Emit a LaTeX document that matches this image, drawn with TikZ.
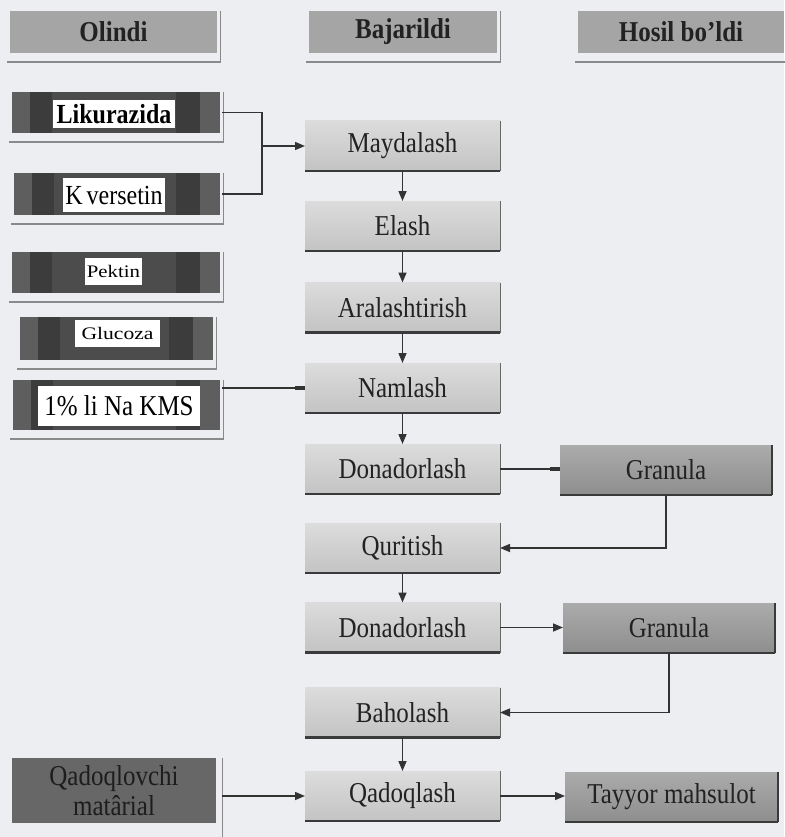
\documentclass[tikz,border=0pt]{standalone}
\usepackage{fontspec}
\setmainfont{Liberation Serif}
\usepackage{graphicx}
\usetikzlibrary{arrows.meta,calc}
\definecolor{bgc}{HTML}{ECEEF1}
\definecolor{hdrc}{HTML}{A5A5A5}
\definecolor{framec}{HTML}{8A8A8A}
\definecolor{ptop}{HTML}{DCDCDC}
\definecolor{pbot}{HTML}{C3C3C3}
\definecolor{pedge}{HTML}{3A3A3A}
\definecolor{gtop}{HTML}{ABABAB}
\definecolor{gbot}{HTML}{8E8E8E}
\definecolor{inbg}{HTML}{4C4C4C}
\definecolor{inlight}{HTML}{5E5E5E}
\definecolor{indark}{HTML}{3C3C3C}
\definecolor{qmc}{HTML}{676767}
\definecolor{txtc}{HTML}{222222}
\definecolor{linec}{HTML}{333333}
\newcommand\tallt[1]{\scalebox{1}[1.15]{#1}}
\begin{document}
\begin{tikzpicture}[x=1pt,y=-1pt,
  every node/.style={inner sep=0pt, outer sep=0pt, text=txtc},
  bigfont/.style={font=\fontsize{25}{29}\selectfont},
  framed/.style={append after command={
     ([xshift=-3pt,yshift=-9pt]\tikzlastnode.south west) edge[draw=framec, line width=2pt] ([xshift=4pt,yshift=-9pt]\tikzlastnode.south east)
     ([xshift=3pt]\tikzlastnode.north east) edge[draw=framec, line width=1pt] ([xshift=3pt,yshift=-10pt]\tikzlastnode.south east)}},
  hdr/.style={rectangle, fill=hdrc, minimum height=42pt, font=\fontsize{25}{29}\selectfont\bfseries, framed},
  inbox/.style={rectangle, fill=inbg, framed,
     path picture={
       \fill[inlight] (path picture bounding box.north west) rectangle ([xshift=18pt]path picture bounding box.south west);
       \fill[indark] ([xshift=18pt]path picture bounding box.north west) rectangle ([xshift=40pt]path picture bounding box.south west);
       \fill[inlight] (path picture bounding box.north east) rectangle ([xshift=-20pt]path picture bounding box.south east);
       \fill[indark] ([xshift=-20pt]path picture bounding box.north east) rectangle ([xshift=-44pt]path picture bounding box.south east);}},
  lbl/.style={rectangle, fill=white, text=black},
  proc/.style={rectangle, minimum width=195pt, minimum height=50pt, top color=ptop, bottom color=pbot, bigfont,
     append after command={
       (\tikzlastnode.south west) edge[draw=pedge, line width=2.5pt] (\tikzlastnode.south east)
       (\tikzlastnode.north east) edge[draw=gray!80!black, line width=0.8pt] (\tikzlastnode.south east)}},
  gran/.style={rectangle, minimum width=212pt, minimum height=50pt, top color=gtop, bottom color=gbot, bigfont,
     append after command={
       (\tikzlastnode.south west) edge[draw=pedge, line width=2.5pt] (\tikzlastnode.south east)
       (\tikzlastnode.north east) edge[draw=pedge, line width=1.5pt] (\tikzlastnode.south east)}},
  ln/.style={draw=linec, line width=1.5pt},
  arr/.style={ln, -{Triangle[length=10pt,width=8pt]}},
  stub/.style={ln, -{Rectangle[length=10pt,width=3.5pt]}}
]
\fill[bgc] (0,0) rectangle (784,837);
\useasboundingbox (0,0) rectangle (784,837);

% headers
\node[hdr, minimum width=207pt] (h1) at (113.5,32) {\tallt{Olindi}};
\node[hdr, minimum width=188pt] (h2) at (403,32) {\tallt{Bajarildi}};
\node[hdr, minimum width=206pt] (h3) at (681,32) {\tallt{Hosil bo’ldi}};

% input boxes
\node[inbox, minimum width=208pt, minimum height=41pt] (lik) at (116,112.5) {};
\node[lbl, minimum width=122pt, minimum height=28pt, font=\fontsize{24}{28}\selectfont\bfseries] (likl) at (114,114) {\tallt{Likurazida}};
\node[inbox, minimum width=206pt, minimum height=42pt] (kv) at (117,194) {};
\node[lbl, minimum width=102pt, minimum height=34pt, font=\fontsize{24}{28}\selectfont] (kvl) at (114,195) {\tallt{K\,versetin}};
\node[inbox, minimum width=208pt, minimum height=41pt] (pek) at (116,272.5) {};
\node[lbl, minimum width=57pt, minimum height=27pt, font=\fontsize{16}{18}\selectfont] (pekl) at (113.5,271.5) {\scalebox{1.3}[1.1]{Pektin}};
\node[inbox, minimum width=193pt, minimum height=43pt] (glu) at (116.5,338.5) {};
\node[lbl, minimum width=85pt, minimum height=27pt, font=\fontsize{16}{18}\selectfont] (glul) at (117.5,333.5) {\scalebox{1.35}[1.1]{Glucoza}};
\node[inbox, minimum width=207pt, minimum height=50pt] (kms) at (116.5,405) {};
\node[lbl, minimum width=162pt, minimum height=40pt, font=\fontsize{25}{28}\selectfont] (kmsl) at (119,406) {\tallt{1\% li Na KMS}};

\node[rectangle, fill=qmc, minimum width=204pt, minimum height=65pt, align=center, font=\fontsize{25}{29}\selectfont, text=txtc!85!black] (qm) at (114,790.5) {\tallt{Qadoqlovchi}\\[1pt]\tallt{matârial}};
\coordinate (qmr) at ([xshift=6pt]qm.east);
\draw[framec, line width=1pt] ([xshift=6pt]qm.north east) -- (222,837);

% process boxes
\node[proc] (mayd) at (402.5,146) {\tallt{Maydalash}};
\node[proc] (elash) at (402.5,226) {\tallt{Elash}};
\node[proc] (aral) at (402.5,307.5) {\tallt{Aralashtirish}};
\node[proc] (naml) at (402.5,388) {\tallt{Namlash}};
\node[proc] (don1) at (402.5,469) {\tallt{Donadorlash}};
\node[proc] (qur) at (402.5,548) {\tallt{Quritish}};
\node[proc] (don2) at (402.5,627.5) {\tallt{Donadorlash}};
\node[proc] (bah) at (402.5,712.5) {\tallt{Baholash}};
\node[proc] (qad) at (402.5,796) {\tallt{Qadoqlash}};

% outputs
\node[gran] (gr1) at (666,470) {\tallt{Granula}};
\node[gran] (gr2) at (669,628) {\tallt{Granula}};
\node[gran, minimum width=213pt] (tay) at (671.5,797) {\tallt{Tayyor mahsulot}};

% connectors
\coordinate (jn) at (262,146);
\draw[ln] ([xshift=2pt]lik.east) -| (jn) |- ([xshift=2pt]kv.east);
\draw[arr] (jn) -- (mayd.west);
\draw[arr] (mayd.south) -- (elash.north);
\draw[arr] (elash.south) -- (aral.north);
\draw[arr] (aral.south) -- (naml.north);
\draw[arr] (naml.south) -- (don1.north);
\draw[stub] ([xshift=2pt]kms.east |- naml.west) -- (naml.west);
\draw[stub] (don1.east) -- (don1.east -| gr1.west);
\draw[arr] (gr1.south) |- (qur.east);
\draw[arr] (qur.south) -- (don2.north);
\draw[arr] (don2.east) -- (don2.east -| gr2.west);
\draw[arr] (gr2.south) |- (bah.east);
\draw[arr] (bah.south) -- (qad.north);
\draw[arr] (qmr |- qad.west) -- (qad.west);
\draw[arr] (qad.east) -- (qad.east -| tay.west);
\end{tikzpicture}
\end{document}
